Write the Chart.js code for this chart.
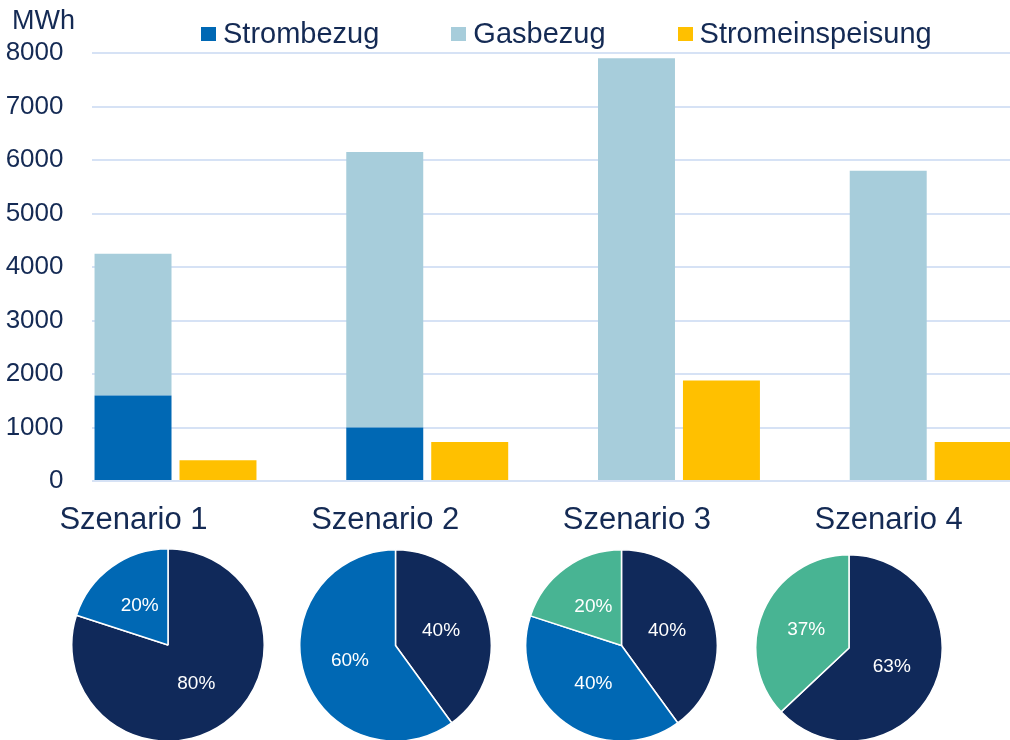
<!DOCTYPE html>
<html>
<head>
<meta charset="utf-8">
<script src="https://cdn.jsdelivr.net/npm/chart.js@4.4.1/dist/chart.umd.min.js"></script>
<style>
    body { margin: 0; width: 1010px; height: 740px; overflow: hidden; background: #fff; position: relative;
           font-family: Arial, "Liberation Sans", sans-serif; }
    #bars { position: absolute; left: 0; top: 0; }
    #legend { position: absolute; left: 201px; top: 19px; display: flex; align-items: center;
              color: #142a54; font-size: 29px; line-height: 29px; white-space: nowrap; }
    .item { display: flex; align-items: center; margin-right: 72px; }
    .box { width: 15px; height: 14px; margin-right: 7px; }
    .pie { position: absolute; }
</style>
</head>
<body>
<canvas id="bars" width="1010" height="545"></canvas>
<div id="legend"></div>
<canvas id="pie0" class="pie"></canvas>
<canvas id="pie1" class="pie"></canvas>
<canvas id="pie2" class="pie"></canvas>
<canvas id="pie3" class="pie"></canvas>
<script>
// bar chart data (MWh)
const scenarios = ['Szenario 1', 'Szenario 2', 'Szenario 3', 'Szenario 4'];
const strombezug = [1600, 1000, 0, 0];
const gasbezug = [2650, 5150, 7900, 5800];
const stromeinspeisung = [390, 730, 1880, 730];
const yTicks = [0, 1000, 2000, 3000, 4000, 5000, 6000, 7000, 8000];

// pie shares per scenario (%)
const pieNavy = [80, 40, 40, 63];
const pieBlue = [20, 60, 40, 0];
const pieGreen = [0, 0, 20, 37];

const textColor = '#142a54';
const stromColor = '#0068b4';
const gasColor = '#a7cddb';
const einspColor = '#ffc000';

// Legend (html)
const legendItems = [
    { label: 'Strombezug', color: stromColor },
    { label: 'Gasbezug', color: gasColor },
    { label: 'Stromeinspeisung', color: einspColor }
];
const legendDiv = document.getElementById('legend');
legendItems.forEach(item => {
    const el = document.createElement('div');
    el.className = 'item';
    el.innerHTML = `<span class="box" style="background:${item.color}"></span><span>${item.label}</span>`;
    legendDiv.appendChild(el);
});

const unitPlugin = {
    id: 'unitLabel',
    afterDraw(chart) {
        const ctx = chart.ctx;
        ctx.save();
        ctx.fillStyle = textColor;
        ctx.font = '27px Arial, "Liberation Sans", sans-serif';
        ctx.textAlign = 'left';
        ctx.textBaseline = 'alphabetic';
        ctx.fillText('MWh', chart.scales.y.left + 12, 29);
        ctx.restore();
    }
};

new Chart(document.getElementById('bars'), {
    type: 'bar',
    data: {
        datasets: [
            { label: 'Strombezug', data: strombezug.map((v, i) => ({ x: i, y: v })), backgroundColor: stromColor, stack: 'bezug' },
            { label: 'Gasbezug', data: gasbezug.map((v, i) => ({ x: i, y: v })), backgroundColor: gasColor, stack: 'bezug' },
            { label: 'Stromeinspeisung', data: stromeinspeisung.map((v, i) => ({ x: i, y: v })), backgroundColor: einspColor, stack: 'einsp' }
        ]
    },
    options: {
        responsive: false,
        animation: false,
        events: [],
        categoryPercentage: 0.675,
        barPercentage: 0.906,
        layout: { padding: { top: 53, right: 0, bottom: 0, left: 0 } },
        plugins: { legend: { display: false }, tooltip: { enabled: false } },
        scales: {
            x: {
                type: 'linear',
                offset: false,
                min: -0.3337,
                max: 3.315,
                afterBuildTicks: scale => { scale.ticks = scenarios.map((s, i) => ({ value: i })); },
                afterFit: scale => {
                    scale.height = 64;
                    scale.paddingLeft = 0;
                    scale.paddingRight = 0;
                },
                grid: { display: false },
                border: { display: false },
                ticks: {
                    autoSkip: false,
                    maxRotation: 0,
                    labelOffset: -42,
                    padding: 13,
                    color: textColor,
                    font: { size: 31, family: 'Arial, "Liberation Sans", sans-serif' },
                    callback: value => scenarios[value]
                }
            },
            y: {
                stacked: true,
                min: 0,
                max: 8000,
                afterBuildTicks: scale => { scale.ticks = yTicks.map(v => ({ value: v })); },
                afterFit: scale => { scale.width = 91.5; },
                grid: { color: '#d6e2f5', lineWidth: 2, drawTicks: false },
                border: { display: false },
                ticks: {
                    padding: 28,
                    color: textColor,
                    font: { size: 26, family: 'Arial, "Liberation Sans", sans-serif' },
                    callback: value => String(value)
                }
            }
        }
    },
    plugins: [unitPlugin]
});

// pies
const pieLabelPlugin = {
    id: 'pieLabels',
    afterDatasetsDraw(chart) {
        const ctx = chart.ctx;
        const meta = chart.getDatasetMeta(0);
        const values = chart.data.datasets[0].data;
        ctx.save();
        ctx.fillStyle = '#ffffff';
        ctx.font = '19px Arial, "Liberation Sans", sans-serif';
        ctx.textAlign = 'center';
        ctx.textBaseline = 'middle';
        meta.data.forEach((arc, i) => {
            if (!values[i]) return;
            const p = arc.tooltipPosition();
            ctx.fillText(values[i] + '%', p.x, p.y);
        });
        ctx.restore();
    }
};

const pieSpots = [
    { cx: 167.5, cy: 645, r: 96 },
    { cx: 395.5, cy: 645, r: 95.5 },
    { cx: 621.5, cy: 645, r: 95.5 },
    { cx: 849, cy: 648, r: 93 }
];

pieSpots.forEach((spot, i) => {
    const canvas = document.getElementById('pie' + i);
    const size = Math.round(spot.r * 2 + 2);
    canvas.width = size;
    canvas.height = size;
    canvas.style.left = (spot.cx - size / 2) + 'px';
    canvas.style.top = (spot.cy - size / 2) + 'px';
    new Chart(canvas, {
        type: 'pie',
        data: {
            labels: ['navy', 'blue', 'green'],
            datasets: [{
                data: [pieNavy[i], pieBlue[i], pieGreen[i]],
                backgroundColor: ['#10295a', '#0068b4', '#48b493'],
                borderColor: '#ffffff',
                borderWidth: 1.5,
                hoverOffset: 0
            }]
        },
        options: {
            responsive: false,
            animation: false,
            events: [],
            plugins: { legend: { display: false }, tooltip: { enabled: false } }
        },
        plugins: [pieLabelPlugin]
    });
});
</script>
</body>
</html>
